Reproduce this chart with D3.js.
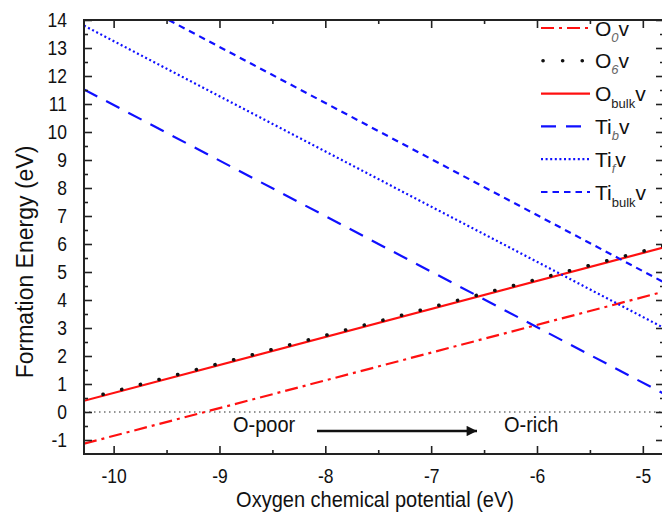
<!DOCTYPE html>
<html>
<head>
<meta charset="utf-8">
<script src="https://cdn.jsdelivr.net/npm/d3@7/dist/d3.min.js"></script>
<style>
  html, body { margin: 0; padding: 0; background: #fff; }
  svg { display: block; font-family: "Liberation Sans", Arial, sans-serif; }
</style>
</head>
<body>
<svg id="chart" width="662" height="519"></svg>
<script>
// ---- data ----
const xDomain = [-10.28, -4.8];
const yDomain = [-1.5, 14];
const xTicks = [-10, -9, -8, -7, -6, -5];
const xMinorTicks = [-9.5, -8.5, -7.5, -6.5, -5.5];
const yTicks = [-1, 0, 1, 2, 3, 4, 5, 6, 7, 8, 9, 10, 11, 12, 13, 14];
const yMinorTicks = [-0.5, 0.5, 1.5, 2.5, 3.5, 4.5, 5.5, 6.5, 7.5, 8.5, 9.5, 10.5, 11.5, 12.5, 13.5];

// each series: two end points (x, y)
const O0_x = [-10.28, -4.8];     const O0_y = [-1.13, 4.3];
const O6_x = [-10.1, -4.8];      const O6_y = [0.63, 5.94];
const Obulk_x = [-10.28, -4.8];  const Obulk_y = [0.40, 5.88];
const Tib_x = [-10.28, -4.8];    const Tib_y = [11.52, 0.65];
const Tif_x = [-10.28, -4.8];    const Tif_y = [13.8, 3.0];
const Tibulk_x = [-9.48, -4.8];  const Tibulk_y = [14.0, 4.63];
const zero_x = [-10.28, -4.8];   const zero_y = [0, 0];

const legendBase = ["O", "O", "O", "Ti", "Ti", "Ti"];
const legendSub = ["0", "6", "bulk", "b", "f", "bulk"];
const legendSubItalic = [true, true, false, true, true, false];

const xLabel = "Oxygen chemical potential (eV)";
const yLabel = "Formation Energy (eV)";
const annLeft = "O-poor";
const annRight = "O-rich";

// ---- layout ----
const svg = d3.select("#chart");
const L = 84, R = 664, T = 20, B = 454;
const x = d3.scaleLinear().domain(xDomain).range([L, R]);
const y = d3.scaleLinear().domain(yDomain).range([B, T]);

const RED = "#ff1010", BLUE = "#1010ff";
const series = [
  {xs: zero_x, ys: zero_y, color: "#707070", width: 1.5, dash: "1.5,3.5", cap: "butt"},
  {xs: O0_x, ys: O0_y, color: RED, width: 2.2, dash: "13,5,3,5", cap: "butt"},
  {xs: Obulk_x, ys: Obulk_y, color: RED, width: 2.2, dash: null, cap: "butt"},
  {xs: O6_x, ys: O6_y, color: "#111", width: 3.6, dash: "0.1,19.2", cap: "round"},
  {xs: Tib_x, ys: Tib_y, color: BLUE, width: 2.2, dash: "15,10", cap: "butt"},
  {xs: Tif_x, ys: Tif_y, color: BLUE, width: 2.2, dash: "2,2.6", cap: "butt"},
  {xs: Tibulk_x, ys: Tibulk_y, color: BLUE, width: 2.2, dash: "6.5,5", cap: "butt"}
];

svg.append("clipPath").attr("id", "clip")
  .append("rect").attr("x", L).attr("y", T).attr("width", R - L).attr("height", B - T);

const line = d3.line().x(d => x(d[0])).y(d => y(d[1]));
const g = svg.append("g").attr("clip-path", "url(#clip)");
series.forEach(s => {
  g.append("path")
    .attr("d", line(d3.zip(s.xs, s.ys)))
    .attr("fill", "none")
    .attr("stroke", s.color)
    .attr("stroke-width", s.width)
    .attr("stroke-linecap", s.cap)
    .attr("stroke-dasharray", s.dash);
});

// ---- axes ----
const axColor = "#222";
const fmt = d => String(d);
function styleAxis(sel) {
  sel.select(".domain").remove();
  sel.selectAll("line").attr("stroke", axColor).attr("stroke-width", 1.6);
  sel.selectAll("text").attr("fill", "#111").style("font-size", "17.5px")
    .style("font-family", "'Liberation Sans', Arial, sans-serif")
    .each(function() {
      const t = d3.select(this);
      const xx = +t.attr("x") || 0, yy = +t.attr("y") || 0;
      t.attr("x", 0).attr("y", 0).attr("transform", `translate(${xx},${yy}) scale(1,1.12)`);
    });
}
svg.append("g").attr("transform", `translate(0,${B})`)
  .call(d3.axisBottom(x).tickValues(xTicks).tickSize(-8).tickPadding(15).tickFormat(fmt))
  .call(styleAxis);
svg.append("g").attr("transform", `translate(0,${B})`)
  .call(d3.axisBottom(x).tickValues(xMinorTicks).tickSize(-4).tickFormat(""))
  .call(styleAxis);
svg.append("g").attr("transform", `translate(0,${T})`)
  .call(d3.axisTop(x).tickValues(xTicks).tickSize(-8).tickFormat(""))
  .call(styleAxis);
svg.append("g").attr("transform", `translate(0,${T})`)
  .call(d3.axisTop(x).tickValues(xMinorTicks).tickSize(-4).tickFormat(""))
  .call(styleAxis);
svg.append("g").attr("transform", `translate(${L},0)`)
  .call(d3.axisLeft(y).tickValues(yTicks).tickSize(-8).tickPadding(17).tickFormat(fmt))
  .call(styleAxis);
svg.append("g").attr("transform", `translate(${L},0)`)
  .call(d3.axisLeft(y).tickValues(yMinorTicks).tickSize(-4).tickFormat(""))
  .call(styleAxis);
svg.append("g").attr("transform", `translate(${R},0)`)
  .call(d3.axisRight(y).tickValues(yTicks).tickSize(-8).tickFormat(""))
  .call(styleAxis);
svg.append("g").attr("transform", `translate(${R},0)`)
  .call(d3.axisRight(y).tickValues(yMinorTicks).tickSize(-4).tickFormat(""))
  .call(styleAxis);

svg.append("rect").attr("x", L).attr("y", T).attr("width", R - L).attr("height", B - T)
  .attr("fill", "none").attr("stroke", axColor).attr("stroke-width", 2);

// axis titles
svg.append("text").attr("transform", "translate(375,507) scale(1,1.1)").attr("text-anchor", "middle")
  .style("font-size", "20px").attr("fill", "#111").text(xLabel);
svg.append("text").attr("transform", "translate(33,262) rotate(-90)").attr("text-anchor", "middle")
  .style("font-size", "23px").attr("fill", "#111").text(yLabel);

// annotation
svg.append("defs").append("marker").attr("id", "arrow")
  .attr("viewBox", "0 0 10 10").attr("refX", 10).attr("refY", 5)
  .attr("markerWidth", 5).attr("markerHeight", 4).attr("markerUnits", "strokeWidth")
  .attr("orient", "auto")
  .append("path").attr("d", "M0,0 L10,5 L0,10 Z").attr("fill", "#111");
svg.append("text").attr("transform", "translate(233,432) scale(1,1.08)").style("font-size", "20px").attr("fill", "#111").text(annLeft);
svg.append("line").attr("x1", 317).attr("y1", 431).attr("x2", 477).attr("y2", 431)
  .attr("stroke", "#111").attr("stroke-width", 2.6).attr("marker-end", "url(#arrow)");
svg.append("text").attr("transform", "translate(504,432) scale(1,1.08)").style("font-size", "20px").attr("fill", "#111").text(annRight);

// legend
const legendStyles = series.slice(1);
const legendOrder = [0, 2, 1, 3, 4, 5]; // O0, O6, Obulk, Tib, Tif, Tibulk
const lx0 = 541, lx1 = 590, ly0 = 28, ldy = 32.8;
legendOrder.forEach((si, i) => {
  const s = legendStyles[si];
  const yy = ly0 + i * ldy;
  svg.append("line").attr("x1", s.cap === "round" ? 543 : lx0).attr("x2", lx1).attr("y1", yy).attr("y2", yy)
    .attr("stroke", s.color).attr("stroke-width", s.width)
    .attr("stroke-linecap", s.cap).attr("stroke-dasharray", s.dash ? (s.cap === "round" ? "0.1,19.5" : s.dash) : null);
  const t = svg.append("text").attr("x", 595).attr("y", yy + 7.5)
    .style("font-size", "21px").attr("fill", "#111");
  t.append("tspan").text(legendBase[i]);
  t.append("tspan").attr("dy", legendSubItalic[i] ? 6 : 7).style("font-size", "13px")
    .style("font-style", legendSubItalic[i] ? "italic" : "normal")
    .attr("fill", legendSubItalic[i] ? "#666" : "#222")
    .text(legendSub[i]);
  t.append("tspan").attr("dy", legendSubItalic[i] ? -6 : -7).text("v");
});
</script>
</body>
</html>
